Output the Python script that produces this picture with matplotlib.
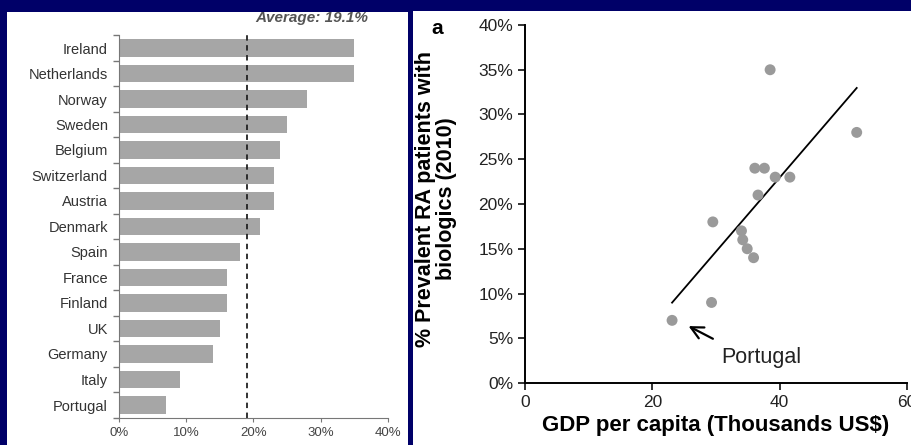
import numpy as np
import matplotlib.pyplot as plt
from matplotlib.patches import Rectangle

plt.rcParams['font.family'] = ['Liberation Sans', 'DejaVu Sans']

# share of prevalent RA patients on biologics, by country (%)
countries = ['Ireland', 'Netherlands', 'Norway', 'Sweden', 'Belgium', 'Switzerland',
             'Austria', 'Denmark', 'Spain', 'France', 'Finland', 'UK', 'Germany',
             'Italy', 'Portugal']
share = [35, 35, 28, 25, 24, 23, 23, 21, 18, 16, 16, 15, 14, 9, 7]
average = 19.1

# GDP per capita (thousands US$) vs share on biologics (%)
gdp = [38.5, 52.1, 36.1, 37.6, 39.3, 41.6, 36.6, 29.5, 34.0, 34.2, 34.9, 35.9, 29.3, 23.1]
biologics = [35, 28, 24, 24, 23, 23, 21, 18, 17, 16, 15, 14, 9, 7]

navy = '#000068'
fig = plt.figure(figsize=(9.12, 4.45), dpi=100, facecolor=navy)

# white panels behind both charts
fig.patches.append(Rectangle((7 / 912, 0), 401 / 912, 433 / 445, transform=fig.transFigure,
                             facecolor='white', edgecolor='none', zorder=-5))
fig.patches.append(Rectangle((413 / 912, 0), 499 / 912, 434 / 445, transform=fig.transFigure,
                             facecolor='white', edgecolor='none', zorder=-5))

# ---- left: bar chart ----
ax1 = fig.add_axes([119 / 912, 1 - 417.75 / 445, 269 / 912, 382.5 / 445])
ax1.set_facecolor('none')
ypos = np.arange(len(countries))
ax1.barh(ypos, share, height=0.67, color='#a6a6a6')
ax1.axvline(average, color='#222222', linestyle=(0, (3, 2.5)), linewidth=1.3)
ax1.set_ylim(len(countries) - 0.5, -0.5)
ax1.set_xlim(0, 40)
ax1.set_yticks(ypos)
ax1.set_yticklabels(countries, fontsize=10.5, color='#333333')
ax1.tick_params(axis='y', which='major', length=0, pad=8)
ax1.set_yticks(np.arange(-0.5, len(countries)), minor=True)
ax1.tick_params(axis='y', which='minor', length=4, color='#777777', width=1)
ax1.set_xticks([0, 10, 20, 30, 40])
ax1.set_xticklabels(['0%', '10%', '20%', '30%', '40%'], fontsize=9.5, color='#444444')
ax1.tick_params(axis='x', length=3, color='#777777', pad=4)
for s in ['top', 'right']:
    ax1.spines[s].set_visible(False)
for s in ['left', 'bottom']:
    ax1.spines[s].set_color('#777777')
ax1.text(0.926, 1.045, f'Average: {average}%', transform=ax1.transAxes, ha='right',
         va='center', fontsize=11, fontweight='bold', fontstyle='italic', color='#555555')

# ---- right: scatter with fitted line ----
ax2 = fig.add_axes([525 / 912, 1 - 383 / 445, 382 / 912, 358 / 445])
ax2.set_facecolor('none')
ax2.scatter(gdp, biologics, s=62, color='#9a9a9a', edgecolors='none', zorder=3)
slope, intercept = np.polyfit(gdp, biologics, 1)
xfit = np.array([min(gdp), max(gdp)])
ax2.plot(xfit, slope * xfit + intercept, color='black', linewidth=1.3, zorder=2)
ax2.set_xlim(0, 60)
ax2.set_ylim(0, 40)
ax2.set_xticks([0, 20, 40, 60])
ax2.set_yticks(range(0, 41, 5))
ax2.set_yticklabels([f'{v}%' for v in range(0, 41, 5)])
ax2.tick_params(labelsize=12.5, length=5, width=1.3, colors='#222222')
for s in ['top', 'right']:
    ax2.spines[s].set_visible(False)
for s in ['left', 'bottom']:
    ax2.spines[s].set_linewidth(1.4)
ax2.set_xlabel('GDP per capita (Thousands US$)', fontsize=16, fontweight='bold', labelpad=4)
ax2.set_ylabel('% Prevalent RA patients with\nbiologics (2010)', fontsize=15.5,
               fontweight='bold', linespacing=1.0)
ax2.yaxis.set_label_coords(-0.178, 0.515)
ax2.annotate('', xy=(25.3, 6.5), xytext=(29.9, 4.8),
             arrowprops=dict(arrowstyle='->', color='black', lw=1.6, mutation_scale=22))
ax2.text(30.9, 2.9, 'Portugal', fontsize=15.5, va='center', ha='left', color='#222222')
fig.text(437 / 912, 1 - 28 / 445, 'a', fontsize=15, fontweight='bold', ha='center', va='center')

fig.savefig('out.png', dpi=100, facecolor=navy)
